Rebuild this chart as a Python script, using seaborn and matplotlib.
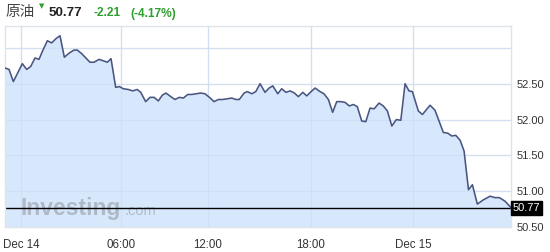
import numpy as np
import matplotlib
matplotlib.use("Agg")
import matplotlib.pyplot as plt
import matplotlib.transforms as mtrans
import seaborn as sns

# ---- data (hours since Dec 14 00:00, crude oil price) ----
hours = [-0.96, -0.72, -0.46, 0.08, 0.34, 0.58, 0.84, 1.08, 1.28, 1.58, 1.84, 2.10, 2.34,
         2.60, 2.90, 3.18, 3.38, 3.64, 4.14, 4.38, 4.68, 4.94, 5.18, 5.40, 5.68, 5.90,
         6.16, 6.50, 6.81, 7.12, 7.36, 7.70, 8.00, 8.28, 8.57, 8.85, 9.10, 9.43, 9.72,
         10.02, 10.30, 10.60, 10.88, 11.17, 11.50, 11.79, 12.08, 12.35, 12.60, 12.86,
         13.12, 13.38, 13.63, 13.82, 14.10, 14.29, 14.55, 14.78, 15.03, 15.32, 15.56,
         15.77, 16.06, 16.29, 16.54, 16.78, 17.03, 17.26, 17.52, 17.75, 18.00, 18.24,
         18.53, 18.76, 19.02, 19.27, 19.51, 19.76, 20.00, 20.25, 20.49, 20.72, 20.98,
         21.22, 21.47, 21.71, 22.00, 22.25, 22.49, 22.75, 23.02, 23.28, 23.53, 23.76,
         23.96, 24.31, 24.55, 25.00, 25.29, 25.78, 26.04, 26.28, 26.51, 26.77, 27.00,
         27.26, 27.49, 27.78, 28.14, 28.53, 28.82, 29.08, 29.41, 29.76]
prices = [52.72, 52.70, 52.53, 52.78, 52.70, 52.74, 52.86, 52.84, 52.95, 53.10, 53.07, 53.13, 53.17,
          52.87, 52.93, 52.97, 52.97, 52.92, 52.80, 52.80, 52.84, 52.82, 52.80, 52.85, 52.45, 52.46,
          52.43, 52.42, 52.40, 52.42, 52.38, 52.25, 52.31, 52.31, 52.26, 52.34, 52.37, 52.32, 52.28,
          52.31, 52.30, 52.35, 52.35, 52.36, 52.37, 52.36, 52.31, 52.25, 52.28, 52.28,
          52.29, 52.30, 52.28, 52.28, 52.37, 52.39, 52.36, 52.39, 52.50, 52.38, 52.44,
          52.47, 52.36, 52.43, 52.38, 52.40, 52.37, 52.32, 52.38, 52.33, 52.39, 52.44,
          52.39, 52.36, 52.28, 52.10, 52.25, 52.25, 52.24, 52.19, 52.21, 52.18, 51.98,
          51.97, 52.16, 52.15, 52.23, 52.19, 52.12, 51.91, 52.00, 51.99, 52.50, 52.40,
          52.39, 52.12, 52.07, 52.20, 52.13, 51.82, 51.81, 51.77, 51.78, 51.71, 51.56,
          51.02, 51.09, 50.82, 50.88, 50.93, 50.91, 50.91, 50.86, 50.77]
tick_hours = [0, 6, 12, 18, 24]
tick_labels = ["Dec 14", "06:00", "12:00", "18:00", "Dec 15"]
y_ticks = [50.5, 51.0, 51.5, 52.0, 52.5]
grid_extra = [53.0]
last_price = 50.77
title_name = "原油"
change = "-2.21"
change_pct = "(-4.17%)"

sns.set_theme(style="white")
plt.rcParams['font.family'] = ['Liberation Sans', 'Noto Sans CJK SC', 'DejaVu Sans']

W, H = 550, 252
fig = plt.figure(figsize=(W / 100, H / 100), dpi=100)
fig.patch.set_facecolor("white")
ax = fig.add_axes([5 / W, 25 / H, 506 / W, 201 / H])

# chart time axis is bar-based: sessions are not evenly spaced in pixels
knot_h = [-100, 0, 6, 12, 18, 24, 100]
knot_p = [21 - 100 * 100 / 6, 21, 121, 208, 311, 413, 413 + 76 * 17]
ax.set_xscale('function', functions=(lambda x: np.interp(x, knot_h, knot_p),
                                     lambda p: np.interp(p, knot_p, knot_h)))
ax.set_xlim(hours[0], hours[-1])
ymin, ymax = 50.5, 53.306
ax.set_ylim(ymin, ymax)

ax.set_facecolor("white")
grid_c = "#e4e8f0"
for v in tick_hours:
    ax.axvline(v, color=grid_c, lw=1, zorder=0.5)
for v in y_ticks + grid_extra:
    ax.axhline(v, color=grid_c, lw=1, zorder=0.5)

ax.fill_between(hours, prices, ymin, color="#d7e8fd", lw=0, zorder=1)
# grid shows faintly through the fill
for v in tick_hours:
    ax.axvline(v, color="#c9dcf3", lw=0.8, zorder=1.1, alpha=0.6)
for v in y_ticks + grid_extra:
    ax.axhline(v, color="#c9dcf3", lw=0.8, zorder=1.1, alpha=0.6)

# watermark
ax.text(16 / 506, 12 / 201, "Investing", transform=ax.transAxes, fontsize=16.5,
        fontweight="bold", color="#a4abb5", alpha=0.75, ha="left", va="baseline", zorder=1.5)
ax.text(120 / 506, 12 / 201, ".com", transform=ax.transAxes, fontsize=10.5,
        color="#a4abb5", alpha=0.75, ha="left", va="baseline", zorder=1.5)

sns.lineplot(x=hours, y=prices, ax=ax, color="#4a5580", linewidth=1.15, zorder=3)
ax.axhline(last_price, color="black", lw=1, zorder=2.5)

for s in ax.spines.values():
    s.set_color("#dfe3ea")
    s.set_linewidth(1)

ax.set_xticks(tick_hours)
ax.set_xticklabels(tick_labels)
ax.set_yticks(y_ticks)
ax.set_yticklabels([f"{v:.2f}" for v in y_ticks])
ax.yaxis.tick_right()
ax.tick_params(axis="x", length=0, pad=9, labelsize=8.3, labelcolor="#333333")
ax.tick_params(axis="y", length=0, pad=4, labelsize=8, labelcolor="#333333")
ax.set_xlabel("")
ax.set_ylabel("")

trans = mtrans.blended_transform_factory(ax.transAxes, ax.transData)
ax.text(1.003, last_price, f"{last_price:.2f}", transform=trans, ha="left", va="center",
        fontsize=8, color="white", zorder=5,
        bbox=dict(boxstyle="square,pad=0.18", fc="black", ec="black"))

# header
ty = 1 - 15.5 / H
fig.text(5 / W, 1 - 16 / H, title_name, fontsize=10.5, color="#444444", ha="left", va="baseline")
fig.text(38.5 / W, 1 - 8.5 / H, "▼", fontsize=5, color="#2e9e2e", ha="left", va="baseline",
         family="DejaVu Sans")
fig.text(49 / W, ty, f"{last_price:.2f}", fontsize=9.6, fontweight="bold", color="#222222",
         ha="left", va="baseline")
fig.text(93 / W, 1 - 16.5 / H, change, fontsize=8.6, fontweight="bold", color="#2e9e2e",
         ha="left", va="baseline")
fig.text(130 / W, 1 - 16.5 / H, change_pct, fontsize=8.6, fontweight="bold", color="#2e9e2e",
         ha="left", va="baseline")

fig.savefig("out.png", dpi=100)
